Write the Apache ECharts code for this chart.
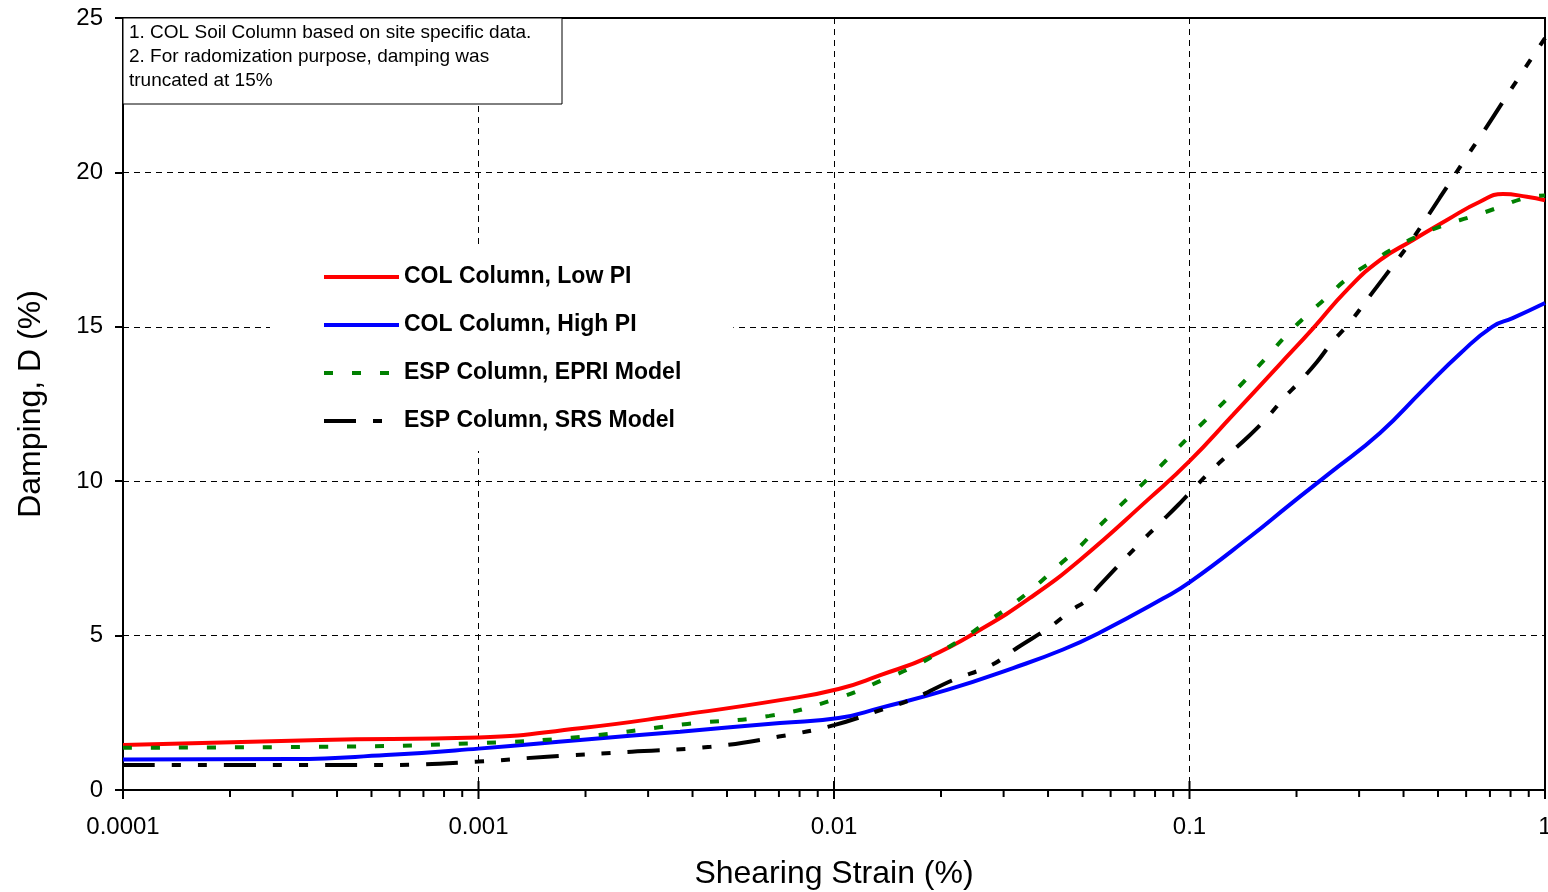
<!DOCTYPE html>
<html>
<head>
<meta charset="utf-8">
<script src="https://cdn.jsdelivr.net/npm/echarts@6/dist/echarts.min.js"></script>
<style>
html,body{margin:0;padding:0;background:#fff;}
#chart{width:1548px;height:892px;}
</style>
</head>
<body>
<div id="chart"></div>
<script>
// ---- data ----
var lowPIStrain = [0.0001, 0.00036, 0.001, 0.00193, 0.00369, 0.00705, 0.0103, 0.0135, 0.0186, 0.0257, 0.0356, 0.0492, 0.0774, 0.1, 0.1325, 0.18, 0.2226, 0.277, 0.3435, 0.4255, 0.53, 0.656, 0.762, 0.889, 1];
var lowPIDamping = [1.46, 1.62, 1.7, 2.0, 2.43, 2.91, 3.27, 3.72, 4.32, 5.18, 6.22, 7.45, 9.46, 10.65, 12.15, 13.8, 14.95, 16.19, 17.16, 17.81, 18.46, 19.05, 19.3, 19.21, 19.1];

var highPIStrain = [0.0001, 0.0003, 0.00055, 0.001, 0.00193, 0.00369, 0.00705, 0.0103, 0.0135, 0.0208, 0.0319, 0.0441, 0.056, 0.0842, 0.1, 0.148, 0.192, 0.248, 0.3435, 0.4533, 0.5795, 0.71, 0.811, 1];
var highPIDamping = [0.99, 1.0, 1.13, 1.34, 1.62, 1.89, 2.17, 2.33, 2.66, 3.24, 3.95, 4.55, 5.1, 6.2, 6.72, 8.2, 9.25, 10.26, 11.56, 12.95, 14.15, 15.0, 15.28, 15.77];

var epriStrain = [0.0001, 0.00036, 0.001, 0.00193, 0.00387, 0.00658, 0.01, 0.0141, 0.0167, 0.0196, 0.0231, 0.0266, 0.0316, 0.0372, 0.0424, 0.0486, 0.055, 0.08, 0.1, 0.13, 0.166, 0.1856, 0.214, 0.244, 0.277, 0.322, 0.3785, 0.445, 0.523, 0.623, 0.738, 0.879, 1];
var epriDamping = [1.37, 1.40, 1.52, 1.72, 2.14, 2.4, 2.93, 3.62, 3.99, 4.43, 4.92, 5.4, 5.99, 6.64, 7.23, 7.83, 8.48, 10.31, 11.46, 12.76, 14.05, 14.68, 15.38, 15.97, 16.55, 17.07, 17.56, 17.97, 18.3, 18.57, 18.86, 19.17, 19.25];

var srsStrain = [0.0001, 0.00055, 0.001, 0.00156, 0.0027, 0.0045, 0.007, 0.01, 0.0141, 0.0167, 0.0216, 0.0278, 0.0327, 0.0405, 0.0467, 0.0514, 0.0553, 0.0726, 0.0815, 0.0929, 0.1, 0.1143, 0.1283, 0.1462, 0.165, 0.1858, 0.2024, 0.2286, 0.2506, 0.2838, 0.3286, 0.3838, 0.4255, 0.506, 0.6, 0.67, 0.7627, 0.87, 1];
var srsDamping = [0.81, 0.81, 0.92, 1.08, 1.24, 1.40, 1.73, 2.1, 2.66, 2.95, 3.56, 4.05, 4.6, 5.28, 5.83, 6.15, 6.57, 8.0, 8.58, 9.23, 9.62, 10.31, 10.85, 11.44, 12.05, 12.74, 13.18, 13.87, 14.47, 15.17, 16.14, 17.16, 17.87, 19.18, 20.48, 21.3, 22.3, 23.3, 24.35];

var seriesNames = ['COL Column, Low PI', 'COL Column, High PI', 'ESP Column, EPRI Model', 'ESP Column, SRS Model'];
var xTickLabels = ['0.0001', '0.001', '0.01', '0.1', '1'];
var yTickLabels = ['0', '5', '10', '15', '20', '25'];
var noteLines = ['1. COL Soil Column based on site specific data.', '2. For radomization purpose, damping was', 'truncated at 15%'];
var xTitle = 'Shearing Strain (%)';
var yTitle = 'Damping, D (%)';

function pairs(xs, ys) { return xs.map(function (x, i) { return [x, ys[i]]; }); }

// axis tick marks (major at decades, minor at 2..9)
var tickMarks = [];
xTickLabels.forEach(function (lab, k) {
  var dec = parseFloat(lab);
  tickMarks.push([dec, 0, 1]);
  if (k < xTickLabels.length - 1) {
    for (var d = 2; d <= 9; d++) tickMarks.push([dec * d, 0, 0]);
  }
});

var FONT = "'Liberation Sans', Arial, Helvetica, sans-serif";
var chart = echarts.init(document.getElementById('chart'), null, { renderer: 'canvas' });

var option = {
  animation: false,
  backgroundColor: '#fff',
  grid: { left: 123, right: 3, top: 18, bottom: 102, show: true, borderColor: '#000', borderWidth: 2, backgroundColor: 'transparent', containLabel: false, outerBoundsMode: 'none' },
  xAxis: {
    type: 'log', logBase: 10, min: 0.0001, max: 1,
    name: xTitle, nameLocation: 'middle', nameGap: 68,
    nameTextStyle: { fontSize: 32, color: '#000', fontFamily: FONT },
    axisLine: { lineStyle: { color: '#000', width: 2 } },
    axisTick: { show: false },
    axisLabel: {
      fontSize: 24, color: '#000', fontFamily: FONT, margin: 25,
      formatter: function (v) {
        var idx = Math.round(Math.log10(v) + 4);
        return xTickLabels[idx] !== undefined ? xTickLabels[idx] : '';
      }
    },
    splitLine: { show: true, lineStyle: { color: '#000', width: 1, type: [6, 5] } }
  },
  yAxis: {
    type: 'value', min: 0, max: 25, interval: 5,
    name: yTitle, nameLocation: 'middle', nameGap: 76, nameRotate: 90,
    nameTextStyle: { fontSize: 32, color: '#000', fontFamily: FONT },
    axisLine: { show: true, lineStyle: { color: '#000', width: 2 } },
    axisTick: { show: true, length: 8, lineStyle: { color: '#000', width: 2 } },
    axisLabel: {
      fontSize: 24, color: '#000', fontFamily: FONT, margin: 20,
      formatter: function (v) { var i = Math.round(v / 5); return yTickLabels[i] !== undefined ? yTickLabels[i] : ''; }
    },
    splitLine: { show: true, lineStyle: { color: '#000', width: 1, type: [6, 5] } }
  },
  legend: {
    data: seriesNames,
    orient: 'vertical',
    left: 270, top: 247,
    padding: [18, 52, 18, 52],
    backgroundColor: '#fff',
    itemWidth: 75, itemHeight: 14, itemGap: 24,
    itemStyle: { opacity: 0 },
    lineStyle: { width: 4 },
    textStyle: { fontSize: 23, fontWeight: 'bold', color: '#000', fontFamily: FONT, lineHeight: 24 },
    z: 5
  },
  graphic: [
    { type: 'rect', z: 100, shape: { x: 123, y: 18, width: 439, height: 86 }, style: { fill: '#fff', stroke: '#000', lineWidth: 1 } },
    { type: 'text', z: 101, x: 129, y: 21, style: { text: noteLines.join('\n'), fontSize: 19, lineHeight: 24, fill: '#000', fontFamily: FONT, verticalAlign: 'top' } }
  ],
  series: [
    { name: seriesNames[0], type: 'line', data: pairs(lowPIStrain, lowPIDamping), showSymbol: false, symbol: 'none', smooth: 0.5, lineStyle: { color: '#ff0000', width: 4 }, itemStyle: { color: '#ff0000' }, z: 4 },
    { name: seriesNames[1], type: 'line', data: pairs(highPIStrain, highPIDamping), showSymbol: false, symbol: 'none', smooth: 0.5, lineStyle: { color: '#0000ff', width: 4 }, itemStyle: { color: '#0000ff' }, z: 4 },
    { name: seriesNames[2], type: 'line', data: pairs(epriStrain, epriDamping), showSymbol: false, symbol: 'none', smooth: 0.5, lineStyle: { color: '#008000', width: 4, type: [9, 19] }, itemStyle: { color: '#008000' }, z: 4 },
    { name: seriesNames[3], type: 'line', data: pairs(srsStrain, srsDamping), showSymbol: false, symbol: 'none', smooth: 0.4, lineStyle: { color: '#000', width: 4, type: [32, 17, 9, 17, 9, 17] }, itemStyle: { color: '#000' }, z: 4 },
    {
      type: 'custom', name: 'ticks', silent: true, clip: false, z: 10,
      data: tickMarks,
      encode: { x: 0, y: 1 },
      renderItem: function (params, api) {
        var p = api.coord([api.value(0), 0]);
        var major = api.value(2) === 1;
        return {
          type: 'line',
          shape: { x1: p[0], y1: major ? p[1] - 9 : p[1], x2: p[0], y2: p[1] + (major ? 9 : 7) },
          style: { stroke: '#000', lineWidth: 2 }
        };
      }
    }
  ]
};
chart.setOption(option);
</script>
</body>
</html>
